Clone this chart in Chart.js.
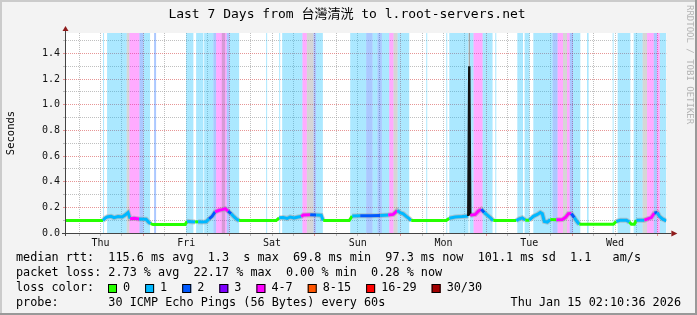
<!DOCTYPE html>
<html>
<head>
<meta charset="utf-8">
<script src="https://cdn.jsdelivr.net/npm/chart.js@4.4.1/dist/chart.umd.min.js"></script>
<style>
  html, body { margin: 0; padding: 0; background: #f3f3f3; }
  canvas { display: block; }
</style>
</head>
<body>
<canvas id="smokeChart" width="697" height="315"></canvas>
<script>
// hours relative to Fri Jan 9 00:00
const X_MIN = -21.65, X_MAX = 146.35, Y_MAX = 1.56;

const dayLabels = ['Thu', 'Fri', 'Sat', 'Sun', 'Mon', 'Tue', 'Wed'];
const dayLabelHours = [-12, 12, 36, 60, 84, 108, 132];
const xGridHours = [-18, -12, -6, 0, 6, 12, 18, 24, 30, 36, 42, 48, 54, 60, 66, 72, 78, 84, 90, 96, 102, 108, 114, 120, 126, 132, 138, 144];
const yGridValues = [0, 0.1, 0.2, 0.3, 0.4, 0.5, 0.6, 0.7, 0.8, 0.9, 1.0, 1.1, 1.2, 1.3, 1.4, 1.5];
const yTickLabels = ['0.0', '', '0.2', '', '0.4', '', '0.6', '', '0.8', '', '1.0', '', '1.2', '', '1.4', ''];

// median rtt (seconds) and loss level per sample
const medianHours = [
  -21.65, -11.28, -10.72, -10.16, -9.04, -8.2, -7.08, -5.96, -5.12, -4.28, -3.72, -2.6, -1.2, 0.76, 1.46, 2.02, 2.72,
  11.68, 12.24, 13.36, 14.48, 15.32, 16.44, 17.56, 18.4, 19.24, 20.08, 21.2, 22.04, 22.88, 23.72, 24.56, 25.4, 26.24, 26.8,
  37.16, 38.0, 39.12, 40.24, 41.08, 42.2, 43.32, 44.16, 44.72, 46.68, 48.36, 49.76, 50.32,
  57.6, 58.44, 60.68, 63.48, 66.28, 68.52, 69.92, 71.04, 71.88, 72.72, 73.56, 74.4, 74.96,
  84.76, 85.6, 87.28, 89.24, 90.92, 91.2, 91.48, 92.88, 93.72, 94.56, 95.4, 96.24, 97.08, 97.92,
  104.36, 105.2, 106.04, 106.88, 108.0, 109.12, 110.24, 111.08, 111.64, 112.2, 113.04, 113.88, 115.56, 117.24, 118.08, 118.92, 119.76, 120.6, 121.44, 122.0,
  131.52, 132.36, 133.48, 135.16, 136.0, 136.56, 137.4, 137.96, 140.2, 141.32, 142.16, 143.0, 143.84, 144.4, 145.24, 146.35
];
const medianRtt = [
  0.097, 0.097, 0.115, 0.125, 0.13, 0.12, 0.128, 0.125, 0.14, 0.16, 0.112, 0.115, 0.11, 0.107, 0.085, 0.073, 0.066,
  0.066, 0.091, 0.088, 0.085, 0.088, 0.086, 0.088, 0.11, 0.13, 0.164, 0.177, 0.182, 0.19, 0.17, 0.15, 0.125, 0.105, 0.097,
  0.097, 0.118, 0.12, 0.113, 0.125, 0.117, 0.125, 0.128, 0.14, 0.143, 0.14, 0.138, 0.097,
  0.097, 0.133, 0.135, 0.135, 0.136, 0.14, 0.145, 0.175, 0.158, 0.15, 0.13, 0.112, 0.097,
  0.097, 0.115, 0.125, 0.128, 0.133, 1.3, 0.138, 0.145, 0.17, 0.185, 0.16, 0.14, 0.12, 0.097,
  0.097, 0.11, 0.118, 0.1, 0.1, 0.13, 0.145, 0.16, 0.15, 0.09, 0.085, 0.105, 0.104, 0.105, 0.12, 0.15, 0.152, 0.12, 0.085, 0.068,
  0.068, 0.09, 0.1, 0.1, 0.085, 0.068, 0.068, 0.1, 0.1, 0.112, 0.12, 0.156, 0.16, 0.13, 0.11, 0.095
];
const medianLoss = [
  0, 1, 1, 1, 1, 1, 1, 1, 1, 1, 4, 4, 1, 1, 1, 0, 0,
  0, 1, 1, 0, 1, 1, 1, 2, 2, 4, 4, 4, 4, 2, 1, 1, 1, 0,
  0, 1, 1, 1, 1, 1, 1, 4, 4, 2, 1, 1, 0,
  0, 1, 2, 2, 1, 4, 4, 1, 1, 1, 1, 1, 0,
  0, 1, 1, 1, 1, 1, 4, 4, 4, 2, 1, 1, 1, 0,
  1, 1, 1, 0, 1, 1, 1, 1, 1, 1, 1, 0, 4, 4, 4, 4, 2, 1, 1, 0,
  0, 1, 1, 1, 0, 0, 0, 1, 4, 4, 4, 2, 1, 1, 1, 1
];
// smoke above the big spike
const spikeSmokeHour = [91.2, 91.2];
const spikeSmokeRtt = [1.3, 1.56];

// loss background bands [start hour, end hour]
const bandsLoss1 = [
  [-11.28, -11.0], [-10.16, -4.65], [0, 1.88], [11.96, 14.0], [14.76, 16.8], [17.0, 19.6], [24.14, 26.8],
  [34.36, 34.64], [38.0, 38.28], [38.84, 44.52], [48.36, 50.23], [57.88, 62.36], [64.12, 65.52], [66.75, 68.8],
  [71.12, 74.4], [79.16, 79.44], [84.76, 85.04], [85.6, 91.0], [91.28, 92.4], [94.92, 97.72], [98.48, 98.76],
  [104.64, 106.23], [106.68, 108.08], [109.12, 114.52], [120.23, 122.28], [124.15, 124.6], [131.32, 131.6],
  [132.72, 136.28], [137.2, 139.72], [144.48, 146.35]
];
const bandsLoss2 = [
  [-1.12, 0], [3.0, 3.56], [19.6, 20.36], [23.3, 24.14], [47.6, 48.36], [62.36, 64.12], [65.52, 66.75],
  [114.52, 115.92], [119.28, 120.23], [142.8, 143.75]
];
const bandsLoss4 = [
  [-3.92, -1.12], [20.36, 23.3], [44.52, 45.75], [68.8, 70.0], [92.4, 94.92], [115.92, 117.43],
  [118.55, 119.28], [140.95, 142.8], [143.75, 144.48]
];
const bandsGray = [
  [-4.65, -3.92], [21.95, 22.88], [45.75, 47.6], [70.0, 71.12], [117.43, 118.55], [139.72, 140.95]
];

const lossColors = ['#26ff00', '#00b8ff', '#0059ff', '#7e00ff', '#ff00ff', '#ff5500', '#ff0000', '#a10000'];
const lossLegendLabels = ['0', '1', '2', '3', '4-7', '8-15', '16-29', '30/30'];

const titleText = 'Last 7 Days from 台灣清洸 to l.root-servers.net';
const statsRtt = 'median rtt:  115.6 ms avg  1.3  s max  69.8 ms min  97.3 ms now  101.1 ms sd  1.1   am/s';
const statsLoss = 'packet loss: 2.73 % avg  22.17 % max  0.00 % min  0.28 % now';
const probeText = 'probe:       30 ICMP Echo Pings (56 Bytes) every 60s';
const dateText = 'Thu Jan 15 02:10:36 2026';

const MONO = '"DejaVu Sans Mono", "Noto Sans CJK TC", monospace';
const MAJOR_GRID = 'rgba(215, 80, 80, 0.6)';
const MINOR_GRID = 'rgba(150, 150, 150, 0.6)';

function bandPoints(bands) {
  const pts = [{ x: X_MIN, y: 0 }];
  bands.forEach(([s, e]) => { pts.push({ x: s, y: Y_MAX }, { x: e, y: 0 }); });
  pts.push({ x: X_MAX, y: 0 });
  return pts;
}

function bandSet(bands, color, order) {
  return {
    data: bandPoints(bands), stepped: true, fill: 'origin', backgroundColor: color,
    borderWidth: 0, pointRadius: 0, order: order
  };
}

const medianPoints = medianHours.map((h, i) => ({ x: h, y: medianRtt[i] }));
const isSpike = ctx => medianRtt[ctx.p0DataIndex] > 1 || medianRtt[ctx.p1DataIndex] > 1;

const framePlugin = {
  id: 'frame',
  beforeDraw(chart) {
    const c = chart.ctx, a = chart.chartArea;
    c.save();
    c.fillStyle = '#f3f3f3';
    c.fillRect(0, 0, chart.width, chart.height);
    c.fillStyle = '#cbcbcb';
    c.fillRect(0, 0, chart.width, 2);
    c.fillRect(0, 0, 2, chart.height);
    c.fillStyle = '#999999';
    c.fillRect(0, chart.height - 2, chart.width, 2);
    c.fillRect(chart.width - 2, 0, 2, chart.height);
    c.fillStyle = '#ffffff';
    c.fillRect(a.left, a.top, a.right - a.left, a.bottom - a.top);
    c.restore();
  },
  afterDatasetsDraw(chart) {
    const c = chart.ctx, a = chart.chartArea;
    c.save();
    // axes
    c.strokeStyle = '#444';
    c.lineWidth = 1;
    c.beginPath();
    c.moveTo(a.left - 0.5, a.bottom + 3);
    c.lineTo(a.left - 0.5, a.top - 4);
    c.moveTo(a.left - 4, a.bottom + 0.5);
    c.lineTo(a.right + 5, a.bottom + 0.5);
    c.stroke();
    c.fillStyle = '#8e1b1b';
    c.beginPath();
    c.moveTo(a.left - 0.5, a.top - 7);
    c.lineTo(a.left - 3.5, a.top - 2);
    c.lineTo(a.left + 2.5, a.top - 2);
    c.closePath();
    c.fill();
    c.beginPath();
    c.moveTo(a.right + 11, a.bottom + 0.5);
    c.lineTo(a.right + 5, a.bottom - 2.5);
    c.lineTo(a.right + 5, a.bottom + 3.5);
    c.closePath();
    c.fill();

    // title
    c.fillStyle = '#000';
    c.font = '13px ' + MONO;
    c.textAlign = 'center';
    c.textBaseline = 'middle';
    c.fillText(titleText, 347, 15);

    // y title
    c.save();
    c.translate(11, 133);
    c.rotate(-Math.PI / 2);
    c.font = '10.5px ' + MONO;
    c.fillText('Seconds', 0, 0);
    c.restore();

    // credit
    c.save();
    c.translate(689, 5);
    c.rotate(Math.PI / 2);
    c.textAlign = 'left';
    c.fillStyle = '#b4b4b4';
    c.font = '9px ' + MONO;
    c.fillText('RRDTOOL / TOBI OETIKER', 0, 0);
    c.restore();

    // legend
    c.font = '11.8px ' + MONO;
    c.textAlign = 'left';
    c.fillStyle = '#000';
    c.fillText(statsRtt, 16, 258);
    c.fillText(statsLoss, 16, 273);
    c.fillText('loss color:', 16, 288);
    c.fillText(probeText, 16, 303);
    c.textAlign = 'right';
    c.fillText(dateText, 681, 303);
    c.textAlign = 'left';
    let x = 108;
    lossLegendLabels.forEach((lab, i) => {
      c.fillStyle = lossColors[i];
      c.fillRect(x, 284, 9, 9);
      c.strokeStyle = '#000';
      c.strokeRect(x + 0.5, 284.5, 8, 8);
      c.fillStyle = '#000';
      c.fillText(lab, x + 15, 288);
      x += 15 + c.measureText(lab).width + 15;
    });
    c.restore();
  }
};

const ctx = document.getElementById('smokeChart').getContext('2d');

new Chart(ctx, {
  type: 'line',
  data: {
    datasets: [
      bandSet(bandsGray, 'rgba(120, 120, 120, 0.3)', 10),
      bandSet(bandsLoss4, 'rgba(255, 0, 255, 0.33)', 11),
      bandSet(bandsLoss2, 'rgba(0, 89, 255, 0.33)', 12),
      bandSet(bandsLoss1, 'rgba(0, 184, 255, 0.33)', 13),
      {
        data: spikeSmokeHour.map((h, i) => ({ x: h, y: spikeSmokeRtt[i] })),
        borderColor: '#8a8a8a', borderWidth: 1, pointRadius: 0, fill: false, order: 4
      },
      {
        // smoke halo under the coloured median
        data: medianPoints, borderWidth: 5, pointRadius: 0, fill: false, order: 3,
        borderColor: 'rgba(150, 150, 150, 0.45)',
        segment: {
          borderColor: c => (isSpike(c) || medianLoss[c.p0DataIndex] === 0) ? 'rgba(0,0,0,0)' : 'rgba(150, 150, 150, 0.45)'
        }
      },
      {
        data: medianPoints, borderWidth: 3, pointRadius: 0, fill: false, order: 1,
        borderColor: lossColors[0],
        segment: {
          borderColor: c => isSpike(c) ? '#111' : lossColors[medianLoss[c.p0DataIndex]],
          borderWidth: c => isSpike(c) ? 2.4 : 3
        }
      }
    ]
  },
  options: {
    responsive: false,
    animation: false,
    events: [],
    layout: { padding: { left: 0, top: 33, right: 30.65, bottom: 0 } },
    plugins: {
      legend: { display: false },
      tooltip: { enabled: false },
      title: { display: false }
    },
    scales: {
      x: {
        type: 'linear',
        min: X_MIN,
        max: X_MAX,
        afterBuildTicks: s => { s.ticks = xGridHours.map(v => ({ value: v })); },
        afterFit: s => { s.height = 82; s.paddingLeft = 0; s.paddingRight = 0; },
        ticks: {
          autoSkip: false, maxRotation: 0, padding: 1, color: '#111',
          font: { family: MONO, size: 10 },
          callback: v => { const i = dayLabelHours.indexOf(v); return i < 0 ? '' : dayLabels[i]; }
        },
        grid: {
          color: c => (c.tick && c.tick.value % 24 === 0) ? MAJOR_GRID : MINOR_GRID,
          tickColor: c => (c.tick && c.tick.value % 24 === 0) ? MAJOR_GRID : MINOR_GRID,
          tickLength: 3
        },
        border: { display: false, dash: [1, 1] }
      },
      y: {
        type: 'linear',
        min: 0,
        max: Y_MAX,
        afterBuildTicks: s => { s.ticks = yGridValues.map(v => ({ value: v })); },
        afterFit: s => { s.width = 66; s.paddingTop = 0; s.paddingBottom = 0; },
        ticks: {
          autoSkip: false, padding: 3, color: '#111',
          font: { family: MONO, size: 10 },
          callback: (v, i) => yTickLabels[i]
        },
        grid: {
          color: c => yTickLabels[c.index] ? MAJOR_GRID : MINOR_GRID,
          tickColor: c => yTickLabels[c.index] ? MAJOR_GRID : MINOR_GRID,
          tickLength: 3
        },
        border: { display: false, dash: [1, 1] }
      }
    }
  },
  plugins: [framePlugin]
});
</script>
</body>
</html>
